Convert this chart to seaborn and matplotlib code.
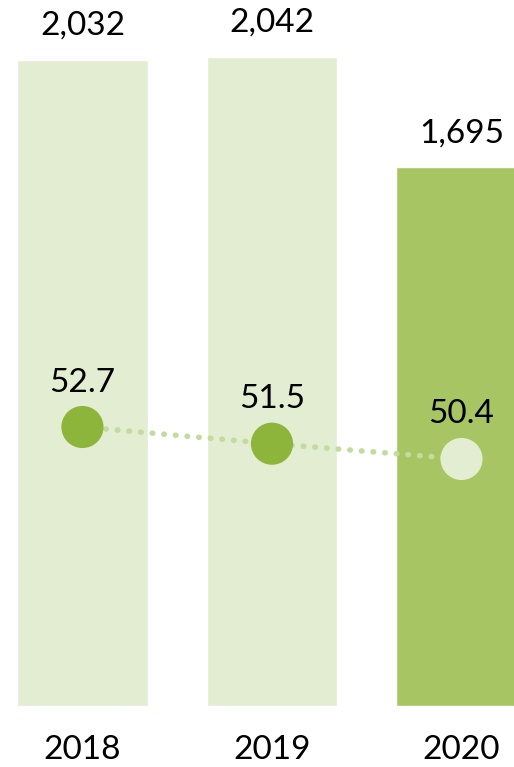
import matplotlib
matplotlib.use('Agg')
from matplotlib import pyplot as plt
import pandas as pd
import seaborn as sns

years = ['2018', '2019', '2020']
totals = [2032, 2042, 1695]
rates = [52.7, 51.5, 50.4]

BAR_LIGHT = '#e2edd1'
BAR_DARK = '#a7c563'
DOT_DARK = '#8db53c'
LINE_COLOR = '#c4dba0'


def main():
  sns.set_theme(style='white')
  plt.rcParams['font.family'] = ['Lato', 'DejaVu Sans']

  data = pd.DataFrame({'year': years, 'total': totals, 'rate': rates})
  bar_colors = [BAR_LIGHT, BAR_LIGHT, BAR_DARK]
  dot_colors = [DOT_DARK, DOT_DARK, BAR_LIGHT]

  fig = plt.figure(figsize=(5.14, 7.67), dpi=100)
  ax = fig.add_axes([0, 0, 1, 1])
  sns.barplot(data=data, x='year', y='total', hue='year',
              palette=bar_colors, width=0.69, saturation=1,
              legend=False, ax=ax)
  ax.set_xlim(-0.435, 2.277)
  ax.set_ylim(-192, 2221)
  for i, v in enumerate(totals):
    ax.text(i, v + 60, f'{v:,}', ha='center', va='bottom',
            fontsize=24, color='black')
    ax.text(i, -138, years[i], ha='center', va='center',
            fontsize=24, color='black')
  ax.axis('off')

  ax2 = ax.twinx()
  ax2.set_ylim(28.24, 83.42)
  ax2.plot(range(len(rates)), rates, color=LINE_COLOR, lw=4,
           linestyle=(0, (0.1, 2.0)), dash_capstyle='round', zorder=1)
  sns.scatterplot(x=range(len(rates)), y=rates, hue=years,
                  palette=dot_colors, s=920, edgecolor='none',
                  legend=False, ax=ax2, zorder=2)
  for i, v in enumerate(rates):
    ax2.text(i, v + 3.2, f'{v}', ha='center', va='center',
             fontsize=24, color='black')
  ax2.axis('off')

  fig.savefig('out.png', dpi=100)
  plt.close('all')


if __name__ == '__main__':
  main()
